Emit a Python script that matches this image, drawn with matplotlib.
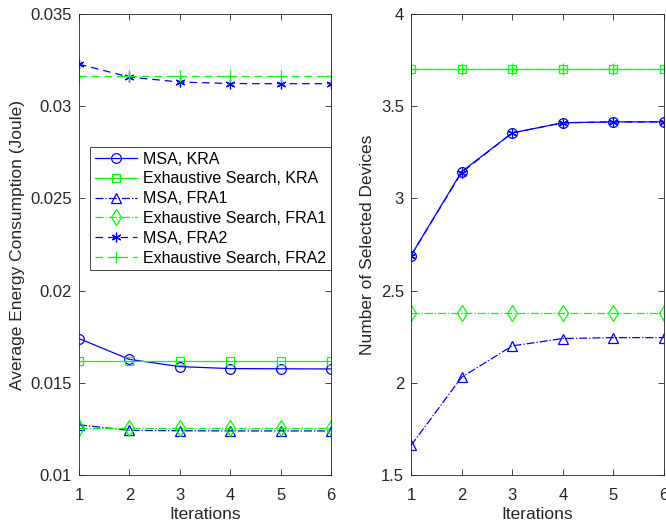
import matplotlib
matplotlib.use('Agg')
import matplotlib.pyplot as plt
from matplotlib.ticker import FixedLocator, FixedFormatter

plt.rcParams['font.family'] = ['Liberation Sans', 'DejaVu Sans']

iterations = [1, 2, 3, 4, 5, 6]

# left panel: average energy consumption (Joule)
energy_msa_kra = [0.0174, 0.01627, 0.01588, 0.01577, 0.01576, 0.01575]
energy_es_kra = [0.01618] * 6
energy_msa_fra1 = [0.01272, 0.01242, 0.01240, 0.01239, 0.01239, 0.01239]
energy_es_fra1 = [0.01253] * 6
energy_msa_fra2 = [0.03228, 0.03158, 0.03131, 0.03123, 0.03122, 0.03122]
energy_es_fra2 = [0.03163] * 6

# right panel: number of selected devices
dev_msa_kra = [2.69, 3.145, 3.355, 3.41, 3.415, 3.415]
dev_es_kra = [3.70] * 6
dev_msa_fra1 = [1.66, 2.03, 2.20, 2.24, 2.245, 2.245]
dev_es_fra1 = [2.38] * 6
dev_msa_fra2 = [2.69, 3.14, 3.355, 3.41, 3.415, 3.415]
dev_es_fra2 = [3.70] * 6

labels = ['MSA, KRA', 'Exhaustive Search, KRA', 'MSA, FRA1',
          'Exhaustive Search, FRA1', 'MSA, FRA2', 'Exhaustive Search, FRA2']

BLUE = '#0000FF'
GREEN = '#00FF00'
AX_COL = '#262626'
ASTER = (6, 2, 0)
styles = [
    dict(color=BLUE, ls='-', marker='o', ms=7),
    dict(color=GREEN, ls='-', marker='s', ms=5.5),
    dict(color=BLUE, ls='-.', marker='^', ms=7.5),
    dict(color=GREEN, ls='-.', marker='d', ms=8),
    dict(color=BLUE, ls=(0, (6, 4)), marker=ASTER, ms=7),
    dict(color=GREEN, ls=(0, (6, 4)), marker='+', ms=8),
]

fig = plt.figure(figsize=(6.66, 5.23), dpi=100)
ax1 = fig.add_axes([79 / 666, 1 - 475 / 523, 252 / 666, 461 / 523])
ax2 = fig.add_axes([411 / 666, 1 - 475 / 523, 253 / 666, 461 / 523])


def draw(ax, series):
    for vals, st, lab in zip(series, styles, labels):
        ax.plot(iterations, vals, color=st['color'], ls=st['ls'], lw=0.9,
                marker=st['marker'], ms=st['ms'], mfc='none',
                mew=0.9, label=lab)


def style_axes(ax, yticks, ylabels, ylim, ylabel):
    ax.set_xlim(1, 6)
    ax.set_ylim(*ylim)
    ax.xaxis.set_major_locator(FixedLocator(iterations))
    ax.yaxis.set_major_locator(FixedLocator(yticks))
    ax.yaxis.set_major_formatter(FixedFormatter(ylabels))
    ax.tick_params(direction='in', top=True, right=True, length=4,
                   width=0.6, color=AX_COL, labelcolor=AX_COL, labelsize=12)
    ax.tick_params(axis='y', pad=5)
    ax.tick_params(axis='x', pad=9)
    for sp in ax.spines.values():
        sp.set_color(AX_COL)
        sp.set_linewidth(0.6)
    ax.set_xlabel('Iterations', fontsize=12.5, color=AX_COL, labelpad=3)
    ax.set_ylabel(ylabel, fontsize=12.5, color=AX_COL, labelpad=4)


draw(ax1, [energy_msa_kra, energy_es_kra, energy_msa_fra1,
           energy_es_fra1, energy_msa_fra2, energy_es_fra2])
style_axes(ax1, [0.01, 0.015, 0.02, 0.025, 0.03, 0.035],
           ['0.01', '0.015', '0.02', '0.025', '0.03', '0.035'],
           (0.01, 0.035), 'Average Energy Consumption (Joule)')

leg = ax1.legend(loc='upper right', bbox_to_anchor=(1.0, 0.712),
                 fontsize=11.5, handlelength=2.6, borderaxespad=0,
                 fancybox=False, framealpha=1, edgecolor=AX_COL,
                 borderpad=0.3, labelspacing=0.3, handletextpad=0.4)
leg.get_frame().set_linewidth(0.6)

draw(ax2, [dev_msa_kra, dev_es_kra, dev_msa_fra1,
           dev_es_fra1, dev_msa_fra2, dev_es_fra2])
style_axes(ax2, [1.5, 2, 2.5, 3, 3.5, 4],
           ['1.5', '2', '2.5', '3', '3.5', '4'],
           (1.5, 4), 'Number of Selected Devices')

fig.savefig('out.png', dpi=100, facecolor='white')
